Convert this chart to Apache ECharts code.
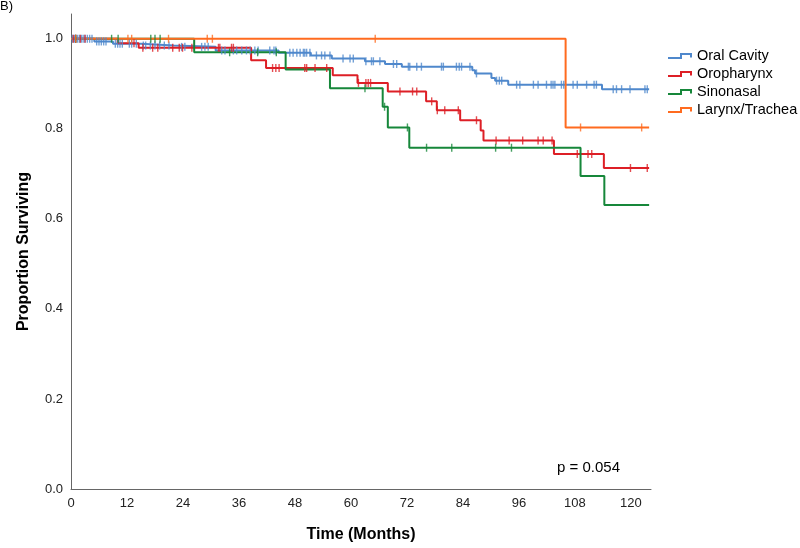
<!DOCTYPE html>
<html>
<head>
<meta charset="utf-8">
<script src="https://cdn.jsdelivr.net/npm/echarts@6/dist/echarts.min.js"></script>
<style>html,body{margin:0;padding:0;background:#fff;}#c{width:800px;height:548px;}</style>
</head>
<body>
<div id="c"></div>
<script>
// ---- data (months / proportion surviving) ----
const seriesNames = ['Oral Cavity', 'Oropharynx', 'Sinonasal', 'Larynx/Trachea'];
const seriesColors = ['#4f88cc', '#dd1f26', '#16873a', '#ff6b1f'];
const followUpEnd = 123.9;

const oralTimes = [0, 5, 9, 15, 22, 31, 44.5, 51.4, 55.9, 63, 67.3, 70.9, 86, 86.6, 90.1, 90.9, 93.7, 113.8];
const oralSurv  = [1, 0.994, 0.989, 0.985, 0.982, 0.974, 0.969, 0.963, 0.956, 0.95, 0.944, 0.938, 0.93, 0.923, 0.913, 0.907, 0.898, 0.888];
const oralCensor = [0.3,0.7,1,1.4,1.8,2.2,2.6,3,3.5,4,4.5,5.5,6,6.5,7,7.5,9.5,10,10.5,11,12.5,13,14,15.5,16,17,18,19,20,21,23.7,24.4,28,28.7,29.4,32.3,33,34.8,35.5,36.6,37.6,38.4,39.4,40.1,42.6,43.5,43.9,46.9,47.6,48.4,49.1,49.8,50.1,50.5,51.2,52.6,53.7,54.4,55.5,58.3,59.8,60.5,63.2,64.4,64.8,66.2,69.1,69.8,72.3,72.6,74.1,75.1,79.4,79.8,82.6,83.2,83.7,85.5,86.9,91.2,91.8,92.3,95.5,96.2,99.1,100.1,101.9,102.9,103.3,103.7,105.1,105.6,107.6,108.5,110.5,112.1,112.6,116.2,116.9,118,119.8,123,123.5];

const oroTimes = [0, 10, 14.5, 38.6, 41.8, 56.1, 61.4, 67.9, 76.1, 78.4, 83.4, 87.8, 88.4, 103.5, 114.2];
const oroSurv  = [1, 0.99, 0.98, 0.952, 0.935, 0.919, 0.902, 0.883, 0.861, 0.841, 0.819, 0.796, 0.774, 0.744, 0.713];
const oroCensor = [0.5,1,2,3,13.5,15.4,17.5,18.6,21.8,23.2,23.9,25.9,31.6,31.9,34.4,34.8,43.2,43.9,44.6,50.1,50.5,52.3,54.8,61.6,63.2,63.7,64.2,70.5,73.2,74.1,77.3,78.5,80.1,83,86.9,91.1,93.9,96.8,100.1,101.2,103.1,108.5,110.8,111.6,119.9,123.5];

const sinoTimes = [0, 26.4, 46, 55.5, 66.8, 67.9, 72.5, 109.2, 114.3];
const sinoSurv  = [1, 0.97, 0.932, 0.89, 0.849, 0.803, 0.758, 0.695, 0.631];
const sinoCensor = [1, 8.7, 10.1, 17.1, 18, 19.1, 34, 40, 44, 63, 67.2, 72.1, 76.2, 81.6, 91, 94.4];

const larTimes = [0, 106];
const larSurv  = [1, 0.803];
const larCensor = [1, 12.2, 13, 20.9, 29.2, 30.3, 65.2, 109.2, 122.3];

const xTicks = [0, 12, 24, 36, 48, 60, 72, 84, 96, 108, 120];
const yTicks = [0, 0.2, 0.4, 0.6, 0.8, 1.0];

// ---- build ----
function stepData(times, surv) {
  const d = times.map((t, i) => [t, surv[i]]);
  d.push([followUpEnd, surv[surv.length - 1]]);
  return d;
}
function survAt(times, surv, t) {
  let v = surv[0];
  for (let i = 0; i < times.length; i++) if (times[i] <= t) v = surv[i];
  return v;
}
const groups = [
  [oralTimes, oralSurv, oralCensor],
  [oroTimes, oroSurv, oroCensor],
  [sinoTimes, sinoSurv, sinoCensor],
  [larTimes, larSurv, larCensor]
];
const series = [];
groups.forEach((g, k) => {
  series.push({
    name: seriesNames[k], type: 'line', step: 'end', showSymbol: false, symbol: 'none',
    data: stepData(g[0], g[1]), color: seriesColors[k],
    lineStyle: { width: 2, color: seriesColors[k] }, z: 2 + k, animation: false
  });
});
groups.forEach((g, k) => {
  series.push({
    name: seriesNames[k] + ' censored', type: 'scatter', symbol: 'rect', symbolSize: [1.4, 8],
    data: g[2].map(t => [t, survAt(g[0], g[1], t)]),
    itemStyle: { color: seriesColors[k] }, z: 10 + k, silent: true, animation: false
  });
});

const legendIcon = 'path://M0,4 L12,4 L12,0 L24,0 L24,4.5 L22,4.5 L22,2 L14,2 L14,6 L0,6 Z';
const font = 'Liberation Sans';

const chart = echarts.init(document.getElementById('c'), null, { renderer: 'canvas' });
chart.setOption({
  animation: false,
  backgroundColor: '#fff',
  textStyle: { fontFamily: font },
  grid: { left: 71, right: 149, top: 14, bottom: 55, containLabel: false },
  legend: {
    data: seriesNames, orient: 'vertical', left: 663, top: 43,
    icon: legendIcon, itemWidth: 24, itemHeight: 6, itemGap: 2,
    textStyle: { fontFamily: font, fontSize: 14.5, color: '#000', lineHeight: 16, padding: [0, 0, 0, 0] },
    selectedMode: false
  },
  xAxis: {
    type: 'value', min: 0, max: 124.3, interval: 12,
    name: 'Time (Months)', nameLocation: 'middle', nameGap: 38,
    nameTextStyle: { fontFamily: font, fontSize: 16, fontWeight: 'bold', color: '#000' },
    axisLine: { show: true, lineStyle: { color: '#666', width: 1 } },
    axisTick: { show: false }, splitLine: { show: false },
    axisLabel: { fontFamily: font, fontSize: 13, color: '#222', margin: 8,
      formatter: v => xTicks.indexOf(Math.round(v)) >= 0 && Math.abs(v - Math.round(v)) < 1e-6 ? String(Math.round(v)) : '' }
  },
  yAxis: {
    type: 'value', min: 0, max: 1.055, interval: 0.2,
    name: 'Proportion Surviving', nameLocation: 'middle', nameGap: 39, nameRotate: 90,
    nameTextStyle: { fontFamily: font, fontSize: 16, fontWeight: 'bold', color: '#000' },
    axisLine: { show: true, lineStyle: { color: '#666', width: 1 } },
    axisTick: { show: false }, splitLine: { show: false },
    axisLabel: { fontFamily: font, fontSize: 13, color: '#222', margin: 8,
      formatter: v => yTicks.some(t => Math.abs(t - v) < 1e-6) ? v.toFixed(1) : '' }
  },
  graphic: [
    { type: 'text', left: 0, top: 0, style: { text: 'B)', fontFamily: font, fontSize: 13, fill: '#000' } },
    { type: 'text', left: 557, top: 460, style: { text: 'p = 0.054', fontFamily: font, fontSize: 15, fill: '#000' } }
  ],
  series: series
});
</script>
</body>
</html>
